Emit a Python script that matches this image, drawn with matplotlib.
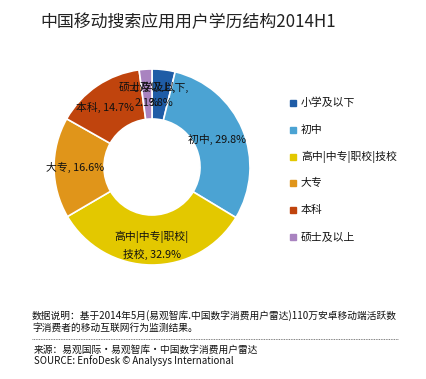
import matplotlib.pyplot as plt
import numpy as np

plt.rcParams['font.family'] = ['Noto Sans CJK SC', 'DejaVu Sans']

categories = ['小学及以下', '初中', '高中|中专|职校|技校', '大专', '本科', '硕士及以上']
values = [3.8, 29.8, 32.9, 16.6, 14.7, 2.1]
colors = ['#1f5ca6', '#4ba3d3', '#e3c800', '#e0951a', '#c0440d', '#a983c0']
wedge_labels = ['小学及以下,\n3.8%', '初中, 29.8%', '高中|中专|职校|\n技校, 32.9%',
                '大专, 16.6%', '本科, 14.7%', '硕士及以上,\n2.1%']
label_dist = [0.74, 0.72, 0.80, 0.79, 0.77, 0.74]
label_turn = [0, 0, 0, 0, 4, 0]  # degrees, to nudge labels like the original

W, H = 427, 379
fig = plt.figure(figsize=(W / 100, H / 100), dpi=100)

fig.text(40 / W, 1 - 22 / H, '中国移动搜索应用用户学历结构2014H1',
         fontsize=12.2, va='center', ha='left', color='#222222')

# donut
cx, cy, r = 152, 167, 98
ax = fig.add_axes([(cx - r) / W, 1 - (cy + r) / H, 2 * r / W, 2 * r / H])
wedges, _ = ax.pie(values, colors=colors, startangle=90, counterclock=False,
                   radius=1.0, wedgeprops=dict(width=0.51, edgecolor='white', linewidth=1.2))
ax.set_xlim(-1, 1)
ax.set_ylim(-1, 1)
ax.set_aspect('equal')

for w, lab, d, t in zip(wedges, wedge_labels, label_dist, label_turn):
    ang = np.deg2rad((w.theta1 + w.theta2) / 2 + t)
    ax.text(d * np.cos(ang), d * np.sin(ang), lab, ha='center', va='center',
            fontsize=7.8, color='#111111', linespacing=1.6)

# legend
lx = 293
ys = [103, 130, 157, 183, 210, 237]
for cat, col, y in zip(categories, colors, ys):
    fig.patches.append(plt.Rectangle(((lx - 3) / W, 1 - (y + 3) / H), 6 / W, 6 / H,
                                     transform=fig.transFigure, color=col))
    fig.text((lx + 8) / W, 1 - y / H, cat, fontsize=7.8, va='center', ha='left', color='#111111')

# footnote
fig.text(32 / W, 1 - 316 / H, '数据说明：基于2014年5月(易观智库.中国数字消费用户雷达)110万安卓移动端活跃数',
         fontsize=7.0, va='center', ha='left', color='#111111')
fig.text(32 / W, 1 - 328 / H, '字消费者的移动互联网行为监测结果。',
         fontsize=7.0, va='center', ha='left', color='#111111')
fig.add_artist(plt.Line2D([32 / W, 398 / W], [1 - 339 / H, 1 - 339 / H],
                          transform=fig.transFigure, color='#555555', linewidth=0.6, linestyle=(0, (1, 1))))
fig.text(34 / W, 1 - 350 / H, '来源：易观国际·易观智库·中国数字消费用户雷达',
         fontsize=7.0, va='center', ha='left', color='#111111')
fig.text(34 / W, 1 - 361 / H, 'SOURCE: EnfoDesk © Analysys International',
         fontsize=7.0, va='center', ha='left', color='#111111')

fig.savefig('out.png', dpi=100)
